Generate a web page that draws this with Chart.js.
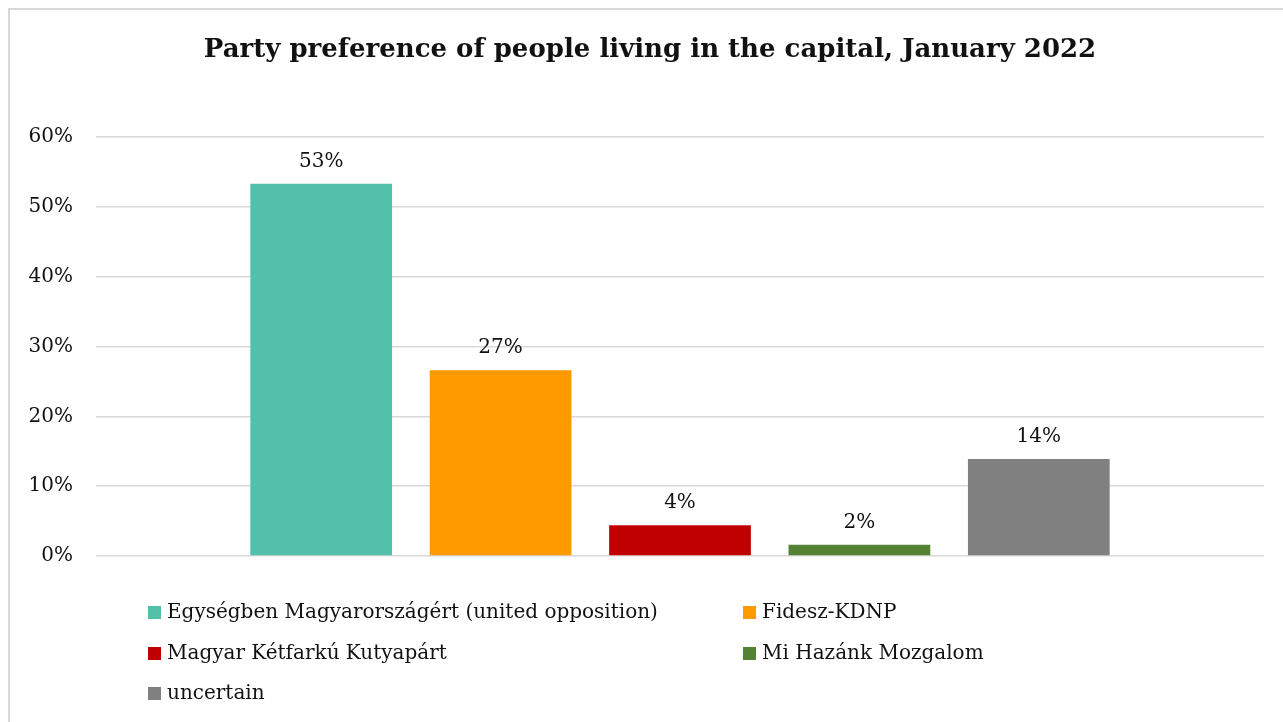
<!DOCTYPE html>
<html>
<head>
<meta charset="utf-8">
<script src="https://cdn.jsdelivr.net/npm/chart.js@4.4.1/dist/chart.umd.min.js"></script>
<style>
  body { margin: 0; background: #fff; }
  canvas { display: block; }
</style>
</head>
<body>
<canvas id="barChart" width="1283" height="722"></canvas>
<script>
const chartTitle = 'Party preference of people living in the capital, January 2022';
const parties = [
  'Egységben Magyarországért (united opposition)',
  'Fidesz-KDNP',
  'Magyar Kétfarkú Kutyapárt',
  'Mi Hazánk Mozgalom',
  'uncertain'
];
const shares = [0.533, 0.266, 0.044, 0.016, 0.139];
const partyColors = ['#53c0a9', '#ff9900', '#c00000', '#548235', '#808080'];
const yTicks = [0, 0.1, 0.2, 0.3, 0.4, 0.5, 0.6];

const serif = '"DejaVu Serif", serif';
const textColor = '#111';

// Excel style extras: frame, title, value labels, 2-column legend
const extras = {
  id: 'extras',
  beforeDraw(chart) {
    const ctx = chart.ctx;
    ctx.save();
    ctx.strokeStyle = '#d9d9d9';
    ctx.lineWidth = 2;
    ctx.beginPath();
    ctx.moveTo(9, 722);
    ctx.lineTo(9, 9);
    ctx.lineTo(1283, 9);
    ctx.stroke();
    ctx.restore();
  },
  afterDraw(chart) {
    const ctx = chart.ctx;
    ctx.save();
    ctx.fillStyle = textColor;
    ctx.textAlign = 'center';
    ctx.textBaseline = 'middle';
    ctx.font = 'bold 26px ' + serif;
    ctx.fillText(chartTitle, 650, 50);

    ctx.font = '20px ' + serif;
    ctx.textBaseline = 'bottom';
    chart.data.datasets.forEach((ds, i) => {
      const bar = chart.getDatasetMeta(i).data[0];
      ctx.fillText(Math.round(ds.data[0] * 100) + '%', bar.x, bar.y - 12);
    });

    ctx.textAlign = 'left';
    ctx.textBaseline = 'middle';
    const colX = [148, 743];
    const rowY = [612, 653, 693];
    parties.forEach((p, i) => {
      const x = colX[i % 2];
      const y = rowY[Math.floor(i / 2)];
      ctx.fillStyle = partyColors[i];
      ctx.fillRect(x, y - 6, 13, 13);
      ctx.fillStyle = textColor;
      ctx.fillText(p, x + 19, y + 1);
    });
    ctx.restore();
  }
};

new Chart(document.getElementById('barChart'), {
  type: 'bar',
  data: {
    labels: [''],
    datasets: parties.map((p, i) => ({
      label: p,
      data: [shares[i]],
      backgroundColor: partyColors[i]
    }))
  },
  options: {
    responsive: false,
    animation: false,
    devicePixelRatio: 1,
    categoryPercentage: 0.768,
    barPercentage: 0.79,
    layout: { padding: { top: 137, bottom: 166, left: 0, right: 19 } },
    plugins: {
      legend: { display: false },
      title: { display: false },
      tooltip: { enabled: false }
    },
    scales: {
      x: { display: false },
      y: {
        min: 0,
        max: 0.6,
        afterFit(scale) { scale.width = 96; },
        afterBuildTicks(scale) { scale.ticks = yTicks.map(v => ({ value: v })); },
        grid: { color: '#d9d9d9', lineWidth: 1.5, drawTicks: false },
        border: { display: false },
        ticks: {
          padding: 23,
          color: textColor,
          font: { family: serif, size: 20 },
          callback: v => Math.round(v * 100) + '%'
        }
      }
    }
  },
  plugins: [extras]
});
</script>
</body>
</html>
